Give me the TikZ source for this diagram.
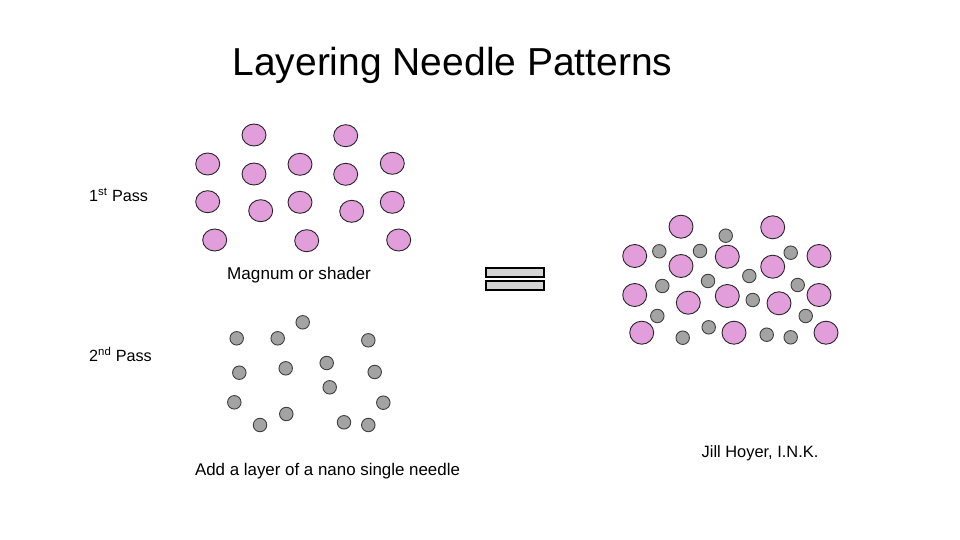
\documentclass[tikz,border=0pt]{standalone}
\usepackage{fontspec}
\setmainfont{Liberation Sans}
\usetikzlibrary{shapes.geometric}
\definecolor{pinkfill}{HTML}{E29DDB}
\definecolor{grayfill}{HTML}{A3A3A3}
\definecolor{bargray}{HTML}{D4D4D4}
\tikzset{
  pinkdot/.style={ellipse, draw=black!85, line width=0.9pt, fill=pinkfill, minimum width=24pt, minimum height=22pt, inner sep=0pt},
  pinkbig/.style={pinkdot, minimum width=24pt, minimum height=23pt},
  graydot/.style={circle, draw=black!75, line width=0.9pt, fill=grayfill, minimum size=13.5pt, inner sep=0pt},
  bar/.style={rectangle, draw=black, line width=2pt, fill=bargray, minimum width=58pt, minimum height=9pt, inner sep=0pt},
  lbl/.style={inner sep=0pt, anchor=base west, font=\fontsize{16.2}{19}\selectfont},
}
\begin{document}
\begin{tikzpicture}[x=1pt,y=-1pt]
\useasboundingbox (0,0) rectangle (960,540);
\fill[white] (0,0) rectangle (960,540);
% title
\node[inner sep=0pt, anchor=base, font=\fontsize{39}{46}\selectfont] (title) at (452.5,75.7) {Layering Needle Patterns};
% labels
\node[lbl] (pass1) at (89,201.7) {1\textsuperscript{st} Pass};
\node[lbl] (pass2) at (89,361.7) {2\textsuperscript{nd} Pass};
\node[lbl, anchor=base, font=\fontsize{17.1}{20}\selectfont] (magnum) at (299,279) {Magnum or shader};
\node[lbl, anchor=base, font=\fontsize{16.9}{20}\selectfont] (addlayer) at (327.5,475) {Add a layer of a nano single needle};
\node[lbl, anchor=base, font=\fontsize{16.4}{19}\selectfont] (author) at (760,457.3) {Jill Hoyer, I.N.K.};
% first pass
\foreach \i/\x/\y in {1/254/135, 2/345.7/135.7, 3/207.7/164, 4/254/174, 5/300/164.3, 6/345.7/174.3, 7/392.3/163.3, 8/207.7/201.7, 9/260.7/210.7, 10/300/202.3, 11/351.7/211.3, 12/392.3/202.3, 13/214.7/240, 14/306.7/240.7, 15/398.7/240}
  \node[pinkdot] (a\i) at (\x,\y) {};
% second pass
\foreach \i/\x/\y in {1/302.7/322.3, 2/236.7/338.3, 3/277.7/338.3, 4/368.3/340.3, 5/239.3/372.7, 6/285.7/368.3, 7/326.7/363, 8/374.7/372, 9/329.7/387.3, 10/234.3/402.3, 11/383.3/402.7, 12/286.3/414, 13/260/425, 14/344/422.3, 15/368.3/425}
  \node[graydot] (b\i) at (\x,\y) {};
% equals sign
\node[bar] (eqtop) at (514.5,272.3) {};
\node[bar] (eqbot) at (514.5,285.7) {};
% combined
\foreach \i/\x/\y in {1/681/226.7, 2/772.7/227.3, 3/634.7/256, 4/681/266, 5/727.3/256.7, 6/772.7/266.7, 7/819/256, 8/634.7/295, 9/688.3/302.7, 10/727.3/296, 11/779/303.3, 12/819/295, 13/641.7/332.7, 14/734/332.7, 15/826/332.7}
  \node[pinkbig] (c\i) at (\x,\y) {};
\foreach \i/\x/\y in {1/725.7/235.7, 2/659.3/251.3, 3/700/251, 4/790.7/252.7, 5/749.3/276, 6/708/281, 7/662.3/286, 8/797.7/285, 9/752.7/300, 10/657.3/316, 11/805.7/316, 12/708.7/327.3, 13/682.7/337.7, 14/766.7/334.7, 15/790.7/337.3}
  \node[graydot] (d\i) at (\x,\y) {};
\end{tikzpicture}
\end{document}
